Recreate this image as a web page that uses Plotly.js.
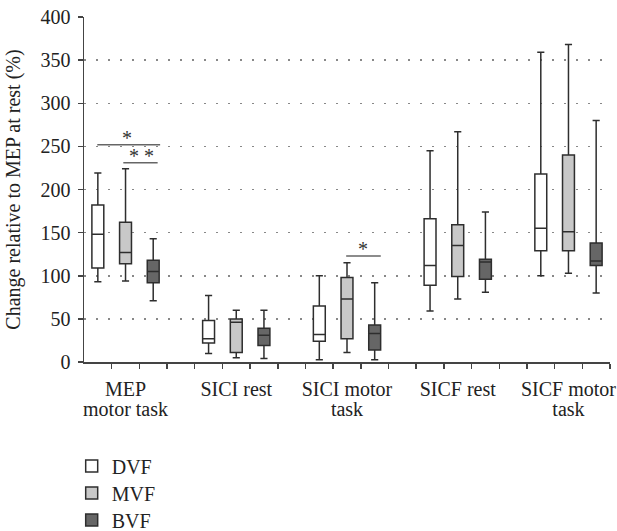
<!DOCTYPE html>
<html>
<head>
<meta charset="utf-8">
<script src="https://cdn.plot.ly/plotly-3.0.1.min.js"></script>
<style>html,body{margin:0;padding:0;background:#fff;}#chart{width:617px;height:531px;}</style>
</head>
<body>
<div id="chart"></div>
<script>
// Categories (x-axis tick labels, "\n" = line break)
const categories = ["MEP\nmotor task", "SICI rest", "SICI motor\ntask", "SICF rest", "SICF motor\ntask"];
const seriesNames = ["DVF", "MVF", "BVF"];

// Box statistics per series, one value per category
const DVF_low    = [93, 10, 2.5, 59, 100];
const DVF_q1     = [109, 22, 24, 89, 129];
const DVF_median = [148, 27, 32, 112, 155];
const DVF_q3     = [182, 48, 65, 166, 218];
const DVF_high   = [219, 77, 100, 245, 359];

const MVF_low    = [94, 5, 11, 73, 103];
const MVF_q1     = [114, 11, 27, 99, 129];
const MVF_median = [127, 46, 73, 135, 151];
const MVF_q3     = [162, 50, 98, 159, 240];
const MVF_high   = [224, 60, 115, 267, 368];

const BVF_low    = [71, 4, 2.5, 81, 80];
const BVF_q1     = [92, 19, 14, 96, 112];
const BVF_median = [105, 31, 33, 116, 117];
const BVF_q3     = [118, 39, 43, 119, 138];
const BVF_high   = [143, 60, 92, 174, 280];

// significance brackets: [fromSlot, toSlot, y value, label, label slot]
const sigBrackets = [
  [0.48, 2.75, 252, "*", 1.54],
  [1.42, 2.66, 231, "* *", 2.06],
  [9.47, 10.72, 123, "*", 10.07]
];

const fills = ["#ffffff", "#c8c8c8", "#666666"];
const lineColor = "#2e2e2e";
const stats = [
  [DVF_low, DVF_q1, DVF_median, DVF_q3, DVF_high],
  [MVF_low, MVF_q1, MVF_median, MVF_q3, MVF_high],
  [BVF_low, BVF_q1, BVF_median, BVF_q3, BVF_high]
];

// each category occupies 4 slots (3 boxes + gap), last gap dropped
const slotsPerGroup = 4;
const nSlots = categories.length * slotsPerGroup - 1;
const groupCenters = categories.map((c, i) => i * slotsPerGroup + 1.5);
const line1 = categories.map(c => c.split("\n")[0]);
const line2 = categories.map(c => c.split("\n")[1] || "");

const legendNames = ["legend", "legend2", "legend3"];
const traces = seriesNames.map((name, s) => ({
  type: "box",
  name: name,
  legend: legendNames[s],
  x: categories.map((c, i) => i * slotsPerGroup + s + 0.5),
  lowerfence: stats[s][0],
  q1: stats[s][1],
  median: stats[s][2],
  q3: stats[s][3],
  upperfence: stats[s][4],
  boxpoints: false,
  width: 0.43,
  whiskerwidth: 0.6,
  fillcolor: fills[s],
  line: {color: lineColor, width: 1.5},
  hoverinfo: "skip"
}));

// invisible traces that carry the category label axes
["x2", "x3"].forEach(ax => traces.push({
  type: "scatter", x: [0], y: [0], xaxis: ax, yaxis: "y",
  mode: "markers", marker: {opacity: 0}, showlegend: false, hoverinfo: "skip"
}));

const fam = "Liberation Serif, Times New Roman, serif";
const font = {family: fam, size: 20, color: "#222"};

const shapes = sigBrackets.map(b => ({
  type: "line", xref: "x", yref: "y", x0: b[0], x1: b[1], y0: b[2], y1: b[2],
  line: {color: "#666", width: 1.5}
}));
const annotations = sigBrackets.map(b => ({
  xref: "x", yref: "y", x: b[4], y: b[2], text: b[3],
  showarrow: false, yanchor: "bottom", yshift: -6,
  font: {family: fam, size: 20, color: "#333"}
}));

// legend rows (pixel centres 466, 493, 520 relative to a 345px-high plot ending at 362)
const legendRowY = [-0.3014, -0.3797, -0.4580];
const legends = {};
legendNames.forEach((ln, s) => {
  legends[ln] = {
    x: -0.0234, xanchor: "left", y: legendRowY[s], yanchor: "middle",
    itemwidth: 30, font: font, bgcolor: "rgba(0,0,0,0)", borderwidth: 0
  };
});

const catAxis = (labels, standoff) => ({
  overlaying: "x", side: "bottom", range: [0, nSlots],
  tickvals: groupCenters, ticktext: labels,
  ticks: "", showline: false, showgrid: false, zeroline: false,
  tickfont: font, ticklabelstandoff: standoff
});

const layout = Object.assign({
  width: 617, height: 531,
  margin: {l: 84, r: 7, t: 17, b: 169, autoexpand: false},
  paper_bgcolor: "#fff", plot_bgcolor: "#fff",
  font: font,
  boxmode: "overlay",
  showlegend: true,
  xaxis: {
    range: [0, nSlots], showline: true, linecolor: "#444", linewidth: 1.5,
    ticks: "outside", tickvals: Array.from({length: nSlots}, (_, k) => k + 1),
    ticklen: 5, tickwidth: 1.5, tickcolor: "#444",
    showticklabels: false, showgrid: false, zeroline: false
  },
  xaxis2: catAxis(line1, 13),
  xaxis3: catAxis(line2, 33),
  yaxis: {
    range: [0, 400], tickvals: [0, 50, 100, 150, 200, 250, 300, 350, 400],
    showline: true, linecolor: "#444", linewidth: 1.5,
    ticks: "outside", ticklen: 5, tickwidth: 1.5, tickcolor: "#444",
    ticklabelstandoff: 3,
    showgrid: true, gridcolor: "#888", gridwidth: 1.5, griddash: "1.5px,10.5px",
    zeroline: false, tickfont: font,
    title: {text: "Change relative to MEP at rest (%)", font: font, standoff: 14}
  },
  shapes: shapes,
  annotations: annotations
}, legends);

Plotly.newPlot("chart", traces, layout, {displayModeBar: false, staticPlot: true});
</script>
</body>
</html>
